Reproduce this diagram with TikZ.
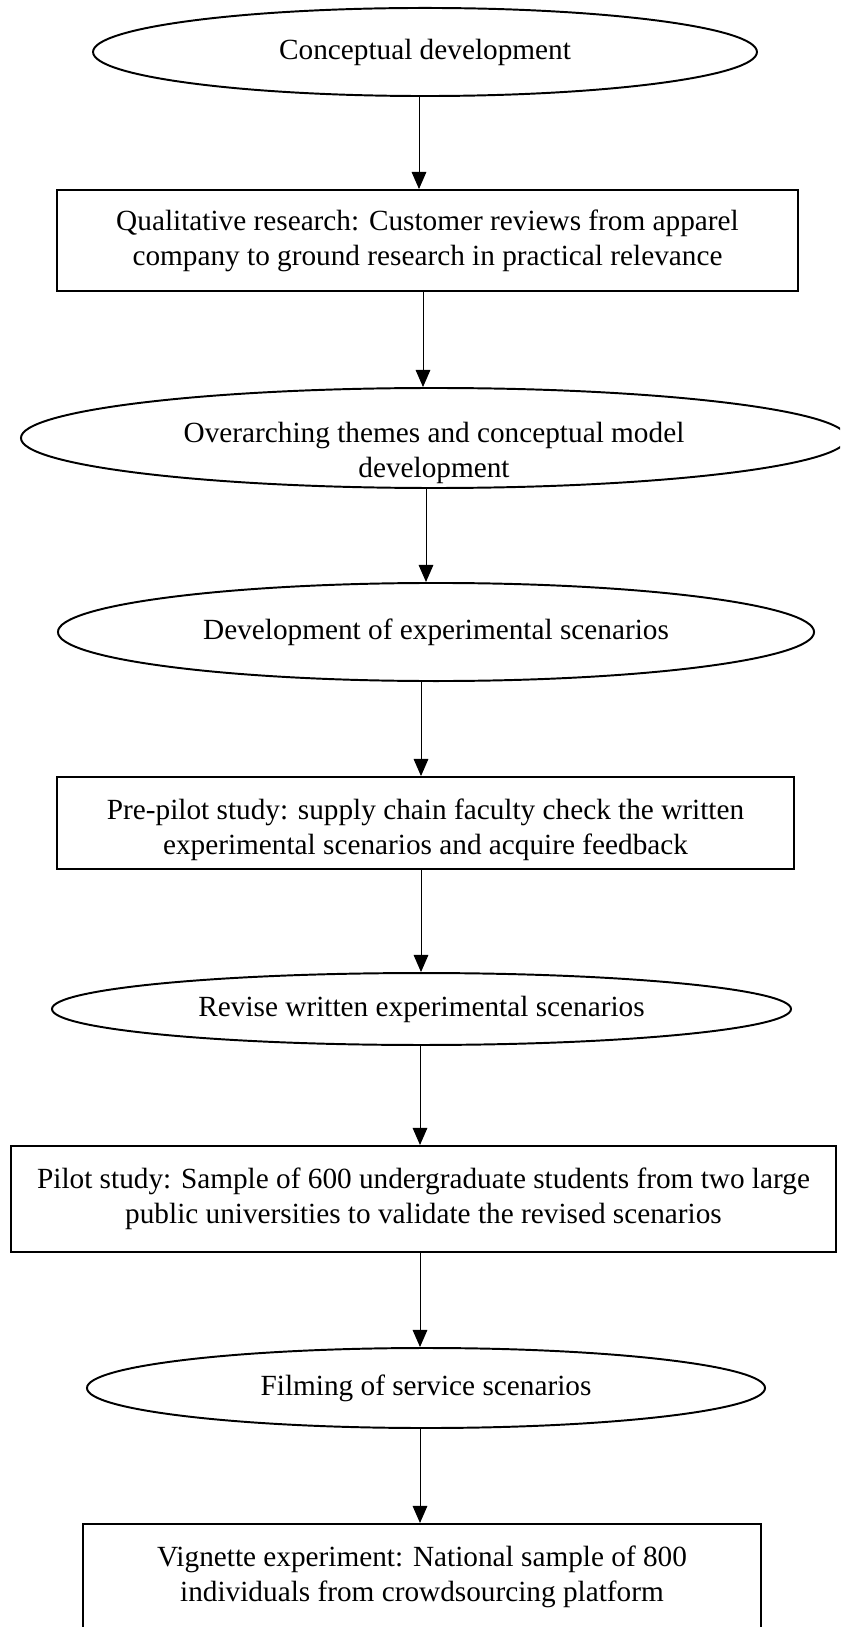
\documentclass[tikz,border=0pt]{standalone}
\usepackage{fontspec}
\setmainfont{Liberation Serif}
\usetikzlibrary{arrows.meta,shapes.geometric}

\begin{document}
\begin{tikzpicture}[x=0.41pt,y=-0.41pt,
  oval/.style={draw,ellipse,line width=0.8pt,inner sep=0pt,align=center,font=\fontsize{12}{14.35}\selectfont},
  stepbox/.style={draw,rectangle,line width=0.8pt,inner sep=0pt,align=center,font=\fontsize{12}{14.35}\selectfont},
  flow/.style={line width=0.4pt,-{Triangle[width=6pt,length=7pt]}}]
\useasboundingbox (0,0) rectangle (840,1627);
\clip (0,0) rectangle (840,1627);

\node[oval, minimum width=272.2pt, minimum height=36.1pt] (E1) at (425,52) {Conceptual development};
\node[stepbox, minimum width=303.8pt, minimum height=41.4pt] (B1) at (427.5,240.5) {Qualitative research: Customer reviews from apparel\\company to ground research in practical relevance};
\node[oval, minimum width=338.7pt, minimum height=41pt, text height=35pt, inner ysep=-6pt] (E2) at (434,438) {Overarching themes and conceptual model\\development};
\node[oval, minimum width=310pt, minimum height=40.2pt] (E3) at (436,632) {Development of experimental scenarios};
\node[stepbox, minimum width=302.2pt, minimum height=37.7pt, text height=28.5pt] (B2) at (425.5,823) {Pre-pilot study: supply chain faculty check the written\\experimental scenarios and acquire feedback};
\node[oval, minimum width=303pt, minimum height=29.5pt] (E4) at (421.5,1009) {Revise written experimental scenarios};
\node[stepbox, minimum width=338.3pt, minimum height=43.5pt] (B3) at (423.5,1199) {Pilot study: Sample of 600 undergraduate students from two large\\public universities to validate the revised scenarios};
\node[oval, minimum width=278pt, minimum height=32.8pt] (E5) at (426,1388) {Filming of service scenarios};
\node[stepbox, minimum width=278pt, minimum height=43.5pt] (B4) at (422,1577) {Vignette experiment: National sample of 800\\individuals from crowdsourcing platform};

\draw [flow] (E1.south -| 419,0) -- (B1.north -| 419,0);
\draw [flow] (B1.south -| 423,0) -- (E2.north -| 423,0);
\draw [flow] (E2.south -| 426,0) -- (E3.north -| 426,0);
\draw [flow] (E3.south -| 421,0) -- (B2.north -| 421,0);
\draw [flow] (B2.south -| 421,0) -- (E4.north -| 421,0);
\draw [flow] (E4.south -| 420,0) -- (B3.north -| 420,0);
\draw [flow] (B3.south -| 420,0) -- (E5.north -| 420,0);
\draw [flow] (E5.south -| 420,0) -- (B4.north -| 420,0);
\end{tikzpicture}
\end{document}
